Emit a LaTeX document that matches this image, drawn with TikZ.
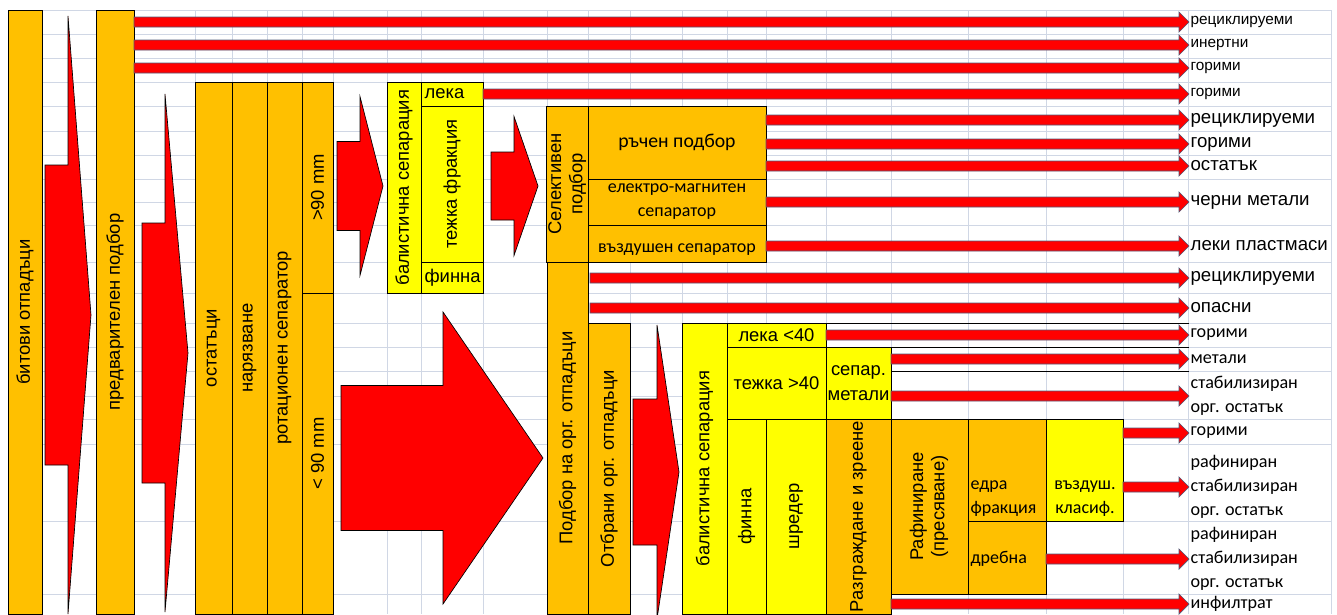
\documentclass[tikz,border=0pt]{standalone}
\usepackage{fontspec}
\setmainfont{Liberation Sans}
\newfontfamily\calfont{Carlito}
\usepackage{graphicx}
\usetikzlibrary{calc}
\definecolor{orng}{HTML}{FFC000}
\definecolor{ylw}{HTML}{FFFF00}
\definecolor{gridc}{HTML}{D0D7E5}
\definecolor{barline}{HTML}{505A78}
\tikzset{
  cellbox/.style={draw=black, line width=0.75pt, inner sep=0pt, outer sep=0pt, font=\fontsize{13.8}{16}\selectfont},
  obox/.style={cellbox, fill=orng},
  ybox/.style={cellbox, fill=ylw},
  calf/.style={font=\calfont\fontsize{13.5}{18}\selectfont},
  gridline/.style={draw=gridc, line width=0.75pt},
  bigred/.style={fill=red, draw=black, line width=0.5pt},
  flowred/.style={fill=red, draw=barline, line width=0.5pt},
  outlbl/.style={anchor=west, inner sep=1pt, align=left, font=\fontsize{14}{18}\selectfont},
  smalllbl/.style={outlbl, font=\fontsize{11.5}{14}\selectfont},
  callbl/.style={outlbl, font=\calfont\fontsize{13.6}{18}\selectfont},
  celltext/.style={inner sep=1pt, font=\fontsize{13.8}{16}\selectfont}
}
\newcommand\boxcell[7]{\node[#6, minimum width={(#4-#2)*0.75pt}, minimum height={(#5-#3)*0.75pt}] (#1) at ({(#2+#4)/2},{(#3+#5)/2}) {#7};}
\newcommand\blockarr[6]{\filldraw[bigred] ({#1},{#4-#5}) -- ({#2},{#4-#5}) -- ({#2},{#4-#6}) -- ({#3},{#4}) -- ({#2},{#4+#6}) -- ({#2},{#4+#5}) -- ({#1},{#4+#5}) -- cycle;}
\newcommand\flowbar[2]{\filldraw[flowred] let \p1=#1, \p2=#2 in (\x1,{\y1+3.75pt}) -- ({\x2-7.5pt},{\y1+3.75pt}) -- ({\x2-7.5pt},{\y1+7.5pt}) -- (\x2,\y1) -- ({\x2-7.5pt},{\y1-7.5pt}) -- ({\x2-7.5pt},{\y1-3.75pt}) -- (\x1,{\y1-3.75pt}) -- cycle;}
\newcommand\vtext[1]{\rotatebox{90}{#1}}
\newcommand\vtwo[2]{\rotatebox{90}{\begin{tabular}{@{}c@{}}#1\\#2\end{tabular}}}
\begin{document}
\begin{tikzpicture}[x=0.75pt, y=-0.75pt]
  \useasboundingbox (0,0) rectangle (1337,614);
  \foreach \gx in {8,42,96,134,195,232,267,302,333,387,421,483,547,588,630,682,727,766,826,891,968,1046,1123,1188,1331}
    \draw[gridline] (\gx,10) -- (\gx,614);
  \foreach \gy in {10,34,58,82,106,131,155,179,225,262,293,323,347,371,419,444,521,594}
    \draw[gridline] (8,\gy) -- (1331,\gy);
  \draw[gridline] (8,202) -- (1188,202);
  \draw[gridline] (8,396) -- (1188,396);

  \boxcell{bitovi}{8}{10}{42}{614}{obox}{\vtext{битови отпадъци}}
  \boxcell{predv}{96}{10}{134}{614}{obox}{\vtext{предварителен подбор}}
  \boxcell{ostatatsi}{195}{82}{232}{614}{obox}{\vtext{остатъци}}
  \boxcell{nariazvane}{232}{82}{267}{614}{obox}{\vtext{нарязване}}
  \boxcell{rotac}{267}{82}{302}{614}{obox}{\vtext{ротационен сепаратор}}
  \boxcell{gt90}{302}{82}{333}{293}{obox}{\vtext{>90 mm}}
  \boxcell{lt90}{302}{293}{333}{614}{obox}{\vtext{< 90 mm}}
  \boxcell{balist}{387}{82}{421}{293}{ybox}{\vtext{балистична сепарация}}
  \boxcell{leka}{421}{82}{483}{106}{ybox}{}
  \boxcell{tezhka}{421}{106}{483}{262}{ybox}{\vtext{тежка фракция}}
  \boxcell{finna}{421}{262}{483}{293}{ybox}{}
  \boxcell{selekt}{547}{106}{588}{262}{obox}{\vtwo{Селективен}{подбор}}
  \boxcell{ruchen}{588}{106}{766}{179}{obox,calf,font=\calfont\fontsize{14.8}{18}\selectfont}{ръчен подбор}
  \boxcell{elektro}{588}{179}{766}{225}{obox,calf,align=center}{електро-магнитен\\сепаратор}
  \boxcell{vazd}{588}{225}{766}{262}{obox}{}
  \boxcell{podbor}{547}{262}{588}{614}{obox}{\vtext{Подбор на орг. отпадъци}}
  \boxcell{otbrani}{588}{323}{630}{614}{obox}{\vtext{Отбрани орг. отпадъци}}
  \boxcell{balist2}{682}{323}{727}{614}{ybox}{\vtext{балистична сепарация}}
  \boxcell{leka40}{727}{323}{826}{347}{ybox}{лека <40}
  \boxcell{tezhka40}{727}{347}{826}{419}{ybox}{тежка >40}
  \boxcell{separ}{826}{347}{891}{419}{ybox,align=center,font=\fontsize{13.8}{18.5}\selectfont}{сепар.\\метали}
  \boxcell{finna2}{727}{419}{766}{614}{ybox}{\vtext{финна}}
  \boxcell{shreder}{766}{419}{826}{614}{ybox}{\vtext{шредер}}
  \boxcell{razgr}{826}{419}{891}{614}{obox}{\vtext{Разграждане и зреене}}
  \boxcell{rafin}{891}{419}{968}{594}{obox}{\vtwo{Рафиниране}{(пресяване)}}
  \boxcell{edra}{968}{419}{1046}{521}{obox}{}
  \boxcell{vazdush}{1046}{419}{1123}{521}{ybox}{}
  \boxcell{drebna}{968}{521}{1046}{594}{obox}{}

  \node[celltext, anchor=west] (t-leka) at ([xshift=1.5pt]leka.west) {лека};
  \node[celltext, anchor=west] (t-finna) at ([xshift=1.5pt]finna.west) {финна};
  \node[celltext, calf] (t-vazd) at (677,250) {въздушен сепаратор};
  \node[celltext, calf, anchor=west, align=left] (t-edra) at (969,499) {едра\\фракция};
  \node[celltext, calf, align=center] (t-vazdush) at (1085,499) {въздуш.\\класиф.};
  \node[celltext, calf, anchor=west] (t-drebna) at (969,559) {дребна};

  \node[smalllbl] (r1) at (1189,22) {рециклируеми};
  \node[smalllbl] (r2) at (1189,45) {инертни};
  \node[smalllbl] (r3) at (1189,68) {горими};
  \node[smalllbl] (r4) at (1189,94) {горими};
  \node[outlbl] (r5) at (1189,120) {рециклируеми};
  \node[outlbl] (r6) at (1189,144) {горими};
  \node[outlbl] (r7) at (1189,166) {остатък};
  \node[outlbl] (r8) at (1189,202) {черни метали};
  \node[outlbl] (r9) at (1189,246) {леки пластмаси};
  \node[outlbl] (r10) at (1189,278) {рециклируеми};
  \node[outlbl] (r11) at (1189,308) {опасни};
  \node[callbl] (r12) at (1189,335) {горими};
  \node[callbl] (r13) at (1189,359) {метали};
  \node[callbl] (r14) at (1189,396) {стабилизиран\\орг. остатък};
  \node[callbl] (r15) at (1189,433) {горими};
  \node[callbl] (r16) at (1189,487) {рафиниран\\стабилизиран\\орг. остатък};
  \node[callbl] (r17) at (1189,559) {рафиниран\\стабилизиран\\орг. остатък};
  \node[callbl] (r18) at (1189,604) {инфилтрат};

  \draw[line width=0.75pt] (leka40.north east) -- (leka40.north east -| r12.west);
  \draw[line width=0.75pt] (separ.north east) -- (separ.north east -| r13.west);
  \draw[line width=0.75pt] (separ.east |- 0,371) -- (r13.west |- 0,371);

  \flowbar{(predv.east |- r1.west)}{(r1.west)}
  \flowbar{(predv.east |- r2.west)}{(r2.west)}
  \flowbar{(predv.east |- r3.west)}{(r3.west)}
  \flowbar{(leka.east |- r4.west)}{(r4.west)}
  \flowbar{(ruchen.east |- r5.west)}{(r5.west)}
  \flowbar{(ruchen.east |- r6.west)}{(r6.west)}
  \flowbar{(ruchen.east |- r7.west)}{(r7.west)}
  \flowbar{(elektro.east |- r8.west)}{(r8.west)}
  \flowbar{(vazd.east |- r9.west)}{(r9.west)}
  \flowbar{([xshift=1.5pt]podbor.east |- r10.west)}{(r10.west)}
  \flowbar{([xshift=1.5pt]podbor.east |- r11.west)}{(r11.west)}
  \flowbar{(leka40.east |- r12.west)}{(r12.west)}
  \flowbar{(separ.east |- r13.west)}{(r13.west)}
  \flowbar{(separ.east |- r14.west)}{(r14.west)}
  \flowbar{(vazdush.east |- r15.west)}{(r15.west)}
  \flowbar{(vazdush.east |- r16.west)}{(r16.west)}
  \flowbar{(drebna.east |- r17.west)}{(r17.west)}
  \flowbar{(razgr.east |- r18.west)}{(r18.west)}

  \blockarr{45}{68}{91}{315}{150}{299}
  \blockarr{142}{165}{188}{353}{130}{259}
  \blockarr{337}{360}{383}{186}{44.5}{89.5}
  \blockarr{491}{514}{538}{186}{34}{69.5}
  \blockarr{341}{443}{543}{458}{72.5}{146}
  \blockarr{633}{657}{679}{472}{73}{147}
\end{tikzpicture}
\end{document}
